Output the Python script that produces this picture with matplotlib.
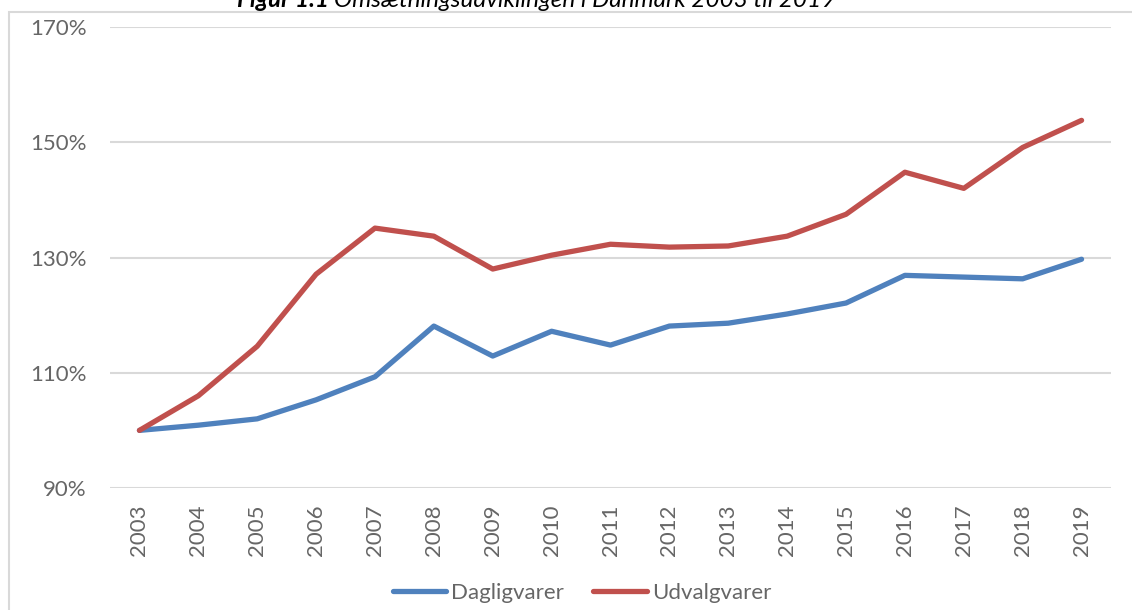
import matplotlib
matplotlib.use("Agg")
import matplotlib.pyplot as plt
from matplotlib.patches import Rectangle

years = ["2003", "2004", "2005", "2006", "2007", "2008", "2009", "2010", "2011",
         "2012", "2013", "2014", "2015", "2016", "2017", "2018", "2019"]
dagligvarer = [100.0, 100.9, 102.0, 105.3, 109.3, 118.1, 112.9, 117.2, 114.8,
               118.1, 118.6, 120.2, 122.1, 126.9, 126.6, 126.3, 129.7]
udvalgvarer = [100.0, 106.0, 114.6, 127.1, 135.1, 133.7, 128.0, 130.4, 132.3,
               131.8, 132.0, 133.7, 137.5, 144.8, 142.0, 149.1, 153.8]
y_ticks = [90, 110, 130, 150, 170]
series_names = ["Dagligvarer", "Udvalgvarer"]
title_bold = "Figur 1.1"
title_rest = "Omsætningsudviklingen i Danmark 2003 til 2019"

plt.rcParams['font.family'] = ['Lato', 'DejaVu Sans']
W, H = 1132, 610
fig = plt.figure(figsize=(W / 100, H / 100), dpi=100)
ax = fig.add_axes([110 / W, 1 - 488 / H, (1111 - 110) / W, (488 - 27) / H])

x = list(range(len(years)))
ax.plot(x, dagligvarer, color="#4F81BD", lw=3.8, solid_capstyle="round",
        solid_joinstyle="round", label=series_names[0], zorder=3)
ax.plot(x, udvalgvarer, color="#C0504D", lw=3.8, solid_capstyle="round",
        solid_joinstyle="round", label=series_names[1], zorder=3)

ax.set_xlim(-0.5, len(years) - 0.5)
ax.set_ylim(90, 170)
ax.set_yticks(y_ticks)
ax.set_yticklabels([f"{v}%" for v in y_ticks])
ax.set_xticks(x)
ax.set_xticklabels(years, rotation=90)
ax.grid(axis="y", color="#D9D9D9", lw=1.5, zorder=0)
for s in ax.spines.values():
    s.set_visible(False)
ax.tick_params(length=0, colors="#666666", labelsize=16)
ax.tick_params(axis="y", pad=17)
ax.tick_params(axis="x", pad=12)

# Frame
fig.patches.append(Rectangle((9 / W, -0.1), 1.2, 1 - 12 / H + 0.1, transform=fig.transFigure,
                             fill=False, edgecolor="#D9D9D9", lw=1.5))

# Title (partly cut at the top, as in the reference)
ty = 1 - 7 / H
tb = fig.text(237 / W, ty, title_bold, fontsize=17.5, fontweight="bold",
              fontstyle="italic", ha="left", va="baseline")
renderer = fig.canvas.get_renderer()
bb = tb.get_window_extent(renderer)
fig.text((bb.x1 + 5) / W, ty, title_rest,
         fontsize=17.5, fontstyle="italic", ha="left", va="baseline")

leg = fig.legend(loc="center", bbox_to_anchor=(582 / W, 1 - 593 / H), ncol=2,
                 frameon=False, fontsize=16, handlelength=2.4, handletextpad=0.25,
                 columnspacing=1.3)
for t in leg.get_texts():
    t.set_color("#666666")

fig.savefig("out.png", dpi=100)
